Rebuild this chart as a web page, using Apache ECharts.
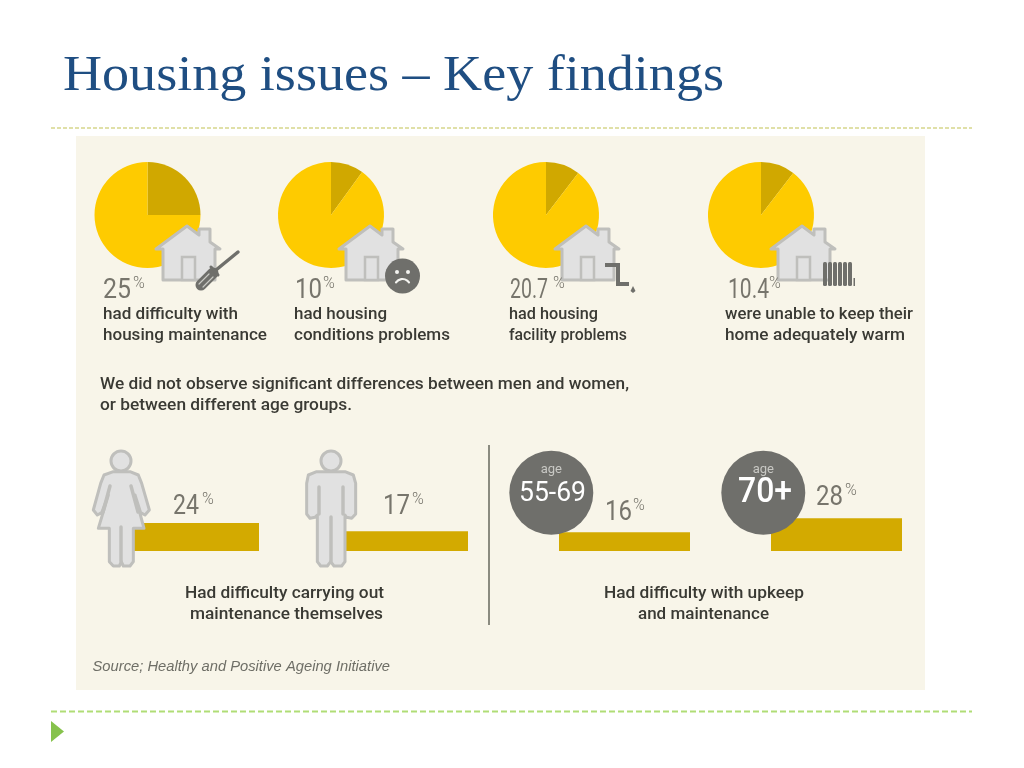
<!DOCTYPE html>
<html><head><meta charset="utf-8">
<style>html,body{margin:0;padding:0;background:#fff}#c{width:1024px;height:768px}</style>
<script src="https://cdn.jsdelivr.net/npm/echarts@6/dist/echarts.min.js"></script>
</head><body><div id="c"></div>
<script>
const titleText = 'Housing issues – Key findings';
const pieShares = [25, 10, 10.4, 10.4];
const pieNumbers = ['25', '10', '20.7', '10.4'];
const pieCaptions = [
  ['had difficulty with', 'housing maintenance'],
  ['had housing', 'conditions problems'],
  ['had housing', 'facility problems'],
  ['were unable to keep their', 'home adequately warm']
];
const barCategories = ['Women', 'Men', 'Age 55-69', 'Age 70+'];
const barValues = [24, 17, 16, 28];
const noteLines = ['We did not observe significant differences between men and women,', 'or between different age groups.'];
const captionLeft = ['Had difficulty carrying out', 'maintenance themselves'];
const captionRight = ['Had difficulty with upkeep', 'and maintenance'];
const sourceText = 'Source; Healthy and Positive Ageing Initiative';

const YEL = '#fecb00', DK = '#d0a800', BAR = '#d3aa00', GREY = '#6f6f6b', NUM = '#77756c', TXT = '#3a3a34';
const HF = '#e1e1e1', HS = '#bfbfbc';
const FONT = 'Roboto, sans-serif';

const pieCx = [147.5, 331, 546, 761];
const pieNumSpan = [[103,131],[295,322],[510,548],[728,769]];
const pieSupX = [133, 323, 553, 769];
const capSpan = [
  [[103,238],[103,267]],
  [[294,387],[294,450]],
  [[509,598],[509,627]],
  [[725,913],[725,905]]
];
const noteSpan = [[100,629],[100,352]];
const capLeftSpan = [[185,384],[190,383]];
const capRightSpan = [[604,804],[638,769]];
const houseX = [187, 370, 586, 802];
const barLeft = [133, 345, 559, 771];
const barW = [126, 123, 131, 131];
const barNumSpan = [[173,199],[383,410],[605,632],[816,843]];
const barNumY = [505, 505, 511, 496];
const barSupX = [202, 412, 633, 845];

const g = [];
const mctx = document.createElement('canvas').getContext('2d');
function fit(x0, y, s, size, fill, x1, opt) {
  opt = opt || {};
  const fam = opt.fontFamily || FONT, w = opt.fontWeight || 'normal', st = opt.fontStyle || 'normal';
  mctx.font = st + ' ' + w + ' ' + size + 'px ' + fam;
  const sx = (x1 - x0) / mctx.measureText(s).width;
  g.push({type:'text', x:x0, y:y+2, scaleX:sx, z:20, silent:true, style:Object.assign({
    text:s, fontSize:size, fill, fontFamily:FONT, textAlign:'left', textVerticalAlign:'middle'
  }, opt)});
}
function text(x, y, s, size, fill, opt) {
  g.push({type:'text', x, y:y+2, z:20, silent:true, style:Object.assign({
    text:s, fontSize:size, fill, fontFamily:FONT, textAlign:'left', textVerticalAlign:'middle'
  }, opt||{})});
}
function poly(points, fill, stroke, lw, z) {
  g.push({type:'polygon', z:z||12, silent:true, shape:{points}, style:{fill, stroke, lineWidth:lw||0, lineJoin:'round'}});
}
function line(x1,y1,x2,y2,stroke,lw,z,extra) {
  g.push({type:'line', z:z||13, silent:true, shape:{x1,y1,x2,y2}, style:Object.assign({stroke, lineWidth:lw, lineCap:'round'}, extra||{})});
}
function circle(cx,cy,r,fill,z,stroke,lw) {
  g.push({type:'circle', z:z||12, silent:true, shape:{cx,cy,r}, style:{fill, stroke:stroke||null, lineWidth:lw||0}});
}
function rect(x,y,w,h,fill,z,r,stroke,lw) {
  g.push({type:'rect', z:z||12, silent:true, shape:{x,y,width:w,height:h,r:r||0}, style:{fill, stroke:stroke||null, lineWidth:lw||0}});
}

// page furniture
rect(76,136,849,554,'#f8f5e9',-5);
line(51,128,972,128,'#e0e0a8',2,-4,{lineDash:[4,2],lineCap:'butt'});
line(51,711.5,972,711.5,'#8fce3c',2,-4,{lineDash:[6,3],lineCap:'butt',opacity:0.7});
poly([[51,721],[64,731.5],[51,742]],'#86c24c',null,0,1);
fit(63,75,titleText,50,'#1f4e82',724,{fontFamily:'"Liberation Serif", serif'});

// houses
function house(px) {
  const y = 226;
  poly([[px,y],[px+12,y+9],[px+12,y+3],[px+23,y+3],[px+23,y+16],[px+33,y+23],[px+28,y+23],[px+28,y+54],[px-24,y+54],[px-24,y+23],[px-31,y+23]],HF,HS,3);
  rect(px-5,y+31,13,23,HF,13,0,HS,2.5);
}
houseX.forEach(house);

// icons on houses
(function(){
  line(216,270,238,252,GREY,3.5);
  line(201,285,213,273,GREY,11);
  line(203,287,213,277,'#c9c9c4',1.2,15);
  line(199,284,209,274,'#c9c9c4',1.2,15);
  line(211,267,218,275,GREY,3);
  circle(402.5,276,17.5,GREY,14);
  circle(397,272,2,'#f4f4f0',15);
  circle(408,272,2,'#f4f4f0',15);
  g.push({type:'arc',z:15,silent:true,shape:{cx:402.5,cy:287,r:8,startAngle:Math.PI*1.2,endAngle:Math.PI*1.8},style:{stroke:'#f4f4f0',lineWidth:2.2,fill:null,lineCap:'round'}});
  g.push({type:'polyline',z:14,silent:true,shape:{points:[[605,265],[618,265],[618,284],[629,284]]},style:{stroke:GREY,lineWidth:4,fill:null}});
  poly([[633,286],[635.5,291],[633,293],[630.5,291]],GREY,null,0,14);
  [823,828,833,838,843,848].forEach(x=>rect(x,262,4,24,GREY,14,1.5));
  rect(853.5,278,1.5,8,GREY,14);
})();

// people
const Z3 = pts => pts.map(p=>[p[0]/3+80,p[1]/3+440]);
circle(121,461,10,HF,12,HS,3);
poly(Z3([[100,95],[150,95],[175,105],[185,130],[208,210],[195,225],[182,218],[165,165],[192,265],[160,265],[160,365],[150,378],[130,378],[124,365],[118,378],[100,378],[88,365],[88,265],[55,265],[85,165],[65,218],[52,225],[40,210],[62,130],[72,105]]),HF,HS,3);
line(110,486,103,512,HS,3.5);
line(131,486,138,512,HS,3.5);
line(121,527,121,561,HS,3.5);
circle(331,461,10,HF,12,HS,3);
poly(Z3([[710,95],[795,95],[820,105],[827,130],[827,222],[815,235],[800,232],[795,225],[795,365],[785,378],[762,378],[752,365],[742,378],[722,378],[712,365],[712,225],[705,232],[690,235],[680,222],[680,130],[685,105]]),HF,HS,3);
line(319,487,319,514,HS,3.5);
line(343,487,343,514,HS,3.5);
line(331,517,331,561,HS,3.5);

// age circles
circle(551.3,492.7,42,GREY,12);
circle(763.3,492.7,42,GREY,12);
text(551.3,467.5,'age',13,'#c8c8c4',{textAlign:'center'});
text(763.3,467.5,'age',13,'#c8c8c4',{textAlign:'center'});
fit(519,491.5,'55-69',28,'#fff',586);
fit(738,491.5,'70+',35,'#fff',792,{fontWeight:500});

// pie texts
const W = {fontWeight:500};
pieNumbers.forEach((n,i)=>{
  fit(pieNumSpan[i][0],289,n,28,NUM,pieNumSpan[i][1]);
  text(pieSupX[i],282,'%',16,NUM,{fontWeight:300});
  pieCaptions[i].forEach((t,j)=>fit(capSpan[i][j][0],313+21*j,t,16,TXT,capSpan[i][j][1],W));
});
noteLines.forEach((t,j)=>fit(noteSpan[j][0],383+21*j,t,16,TXT,noteSpan[j][1],W));
barValues.forEach((v,i)=>{
  fit(barNumSpan[i][0],barNumY[i],String(v),28,NUM,barNumSpan[i][1]);
  text(barSupX[i],barNumY[i]-7,'%',16,NUM,{fontWeight:300});
});
captionLeft.forEach((t,j)=>fit(capLeftSpan[j][0],592+21*j,t,16,TXT,capLeftSpan[j][1],W));
captionRight.forEach((t,j)=>fit(capRightSpan[j][0],592+21*j,t,16,TXT,capRightSpan[j][1],W));
line(489,445,489,625,'#8b8b80',2,5,{lineCap:'butt'});
fit(92.5,665,sourceText,15,'#6e6e66',390,{fontFamily:'"Liberation Sans", sans-serif',fontStyle:'italic'});

// series
const series = [], grid = [], xAxis = [], yAxis = [];
pieShares.forEach((v,i)=>{
  series.push({type:'pie', center:[pieCx[i],215], radius:[0,53], startAngle:90, clockwise:true, silent:true,
    animation:false, label:{show:false}, labelLine:{show:false}, z:2, itemStyle:{borderWidth:0},
    data:[{value:v,name:'share',itemStyle:{color:DK}},{value:100-v,name:'rest',itemStyle:{color:YEL}}]});
});
barValues.forEach((v,i)=>{
  grid.push({left:barLeft[i], width:barW[i], top:516, height:35, containLabel:false});
  xAxis.push({type:'category', gridIndex:i, data:[barCategories[i]], show:false});
  yAxis.push({type:'value', gridIndex:i, min:0, max:30, show:false});
  series.push({type:'bar', xAxisIndex:i, yAxisIndex:i, data:[v], barWidth:'100%', silent:true, animation:false, z:2, itemStyle:{color:BAR}});
});

const chart = echarts.init(document.getElementById('c'), null, {renderer:'canvas'});
chart.setOption({animation:false, backgroundColor:'#fff', tooltip:{show:false}, legend:{show:false}, grid, xAxis, yAxis, series, graphic:{elements:g}});
</script></body></html>
